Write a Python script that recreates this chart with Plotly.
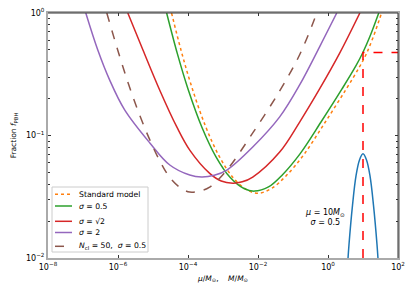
import numpy as np
import plotly.graph_objects as go

# ---- data (log10 of mass, log10 of fraction) ----
std_logM = [-4.47, -4.20, -3.90, -3.50, -3.10, -2.70, -2.30, -1.98, -1.60, -1.20, -0.70, -0.10, 0.50, 0.90, 1.10, 1.30, 1.53]
std_logf = [0.0, -0.303, -0.597, -0.924, -1.174, -1.348, -1.447, -1.471, -1.43, -1.33, -1.16, -0.90, -0.63, -0.44, -0.33, -0.19, 0.0]

s05_logM = [-4.61, -4.30, -4.00, -3.60, -3.20, -2.80, -2.40, -2.10, -1.70, -1.30, -0.80, -0.20, 0.40, 0.80, 1.00, 1.20, 1.45]
s05_logf = [0.0, -0.336, -0.620, -0.934, -1.174, -1.341, -1.433, -1.454, -1.42, -1.32, -1.15, -0.89, -0.62, -0.43, -0.32, -0.19, 0.0]

s14_logM = [-5.72, -5.29, -4.81, -4.32, -3.95, -3.38, -3.05, -2.72, -2.45, -2.15, -1.38, -0.81, -0.24, 0.33, 0.91]
s14_logf = [0.0, -0.30, -0.628, -0.93, -1.119, -1.309, -1.372, -1.389, -1.378, -1.339, -1.135, -0.89, -0.62, -0.33, 0.0]

s2_logM = [-6.92, -6.58, -6.24, -5.81, -5.09, -4.52, -3.95, -3.61, -3.25, -2.89, -2.15, -1.38, -0.81, -0.24, 0.25]
s2_logf = [0.0, -0.30, -0.546, -0.791, -1.061, -1.241, -1.323, -1.339, -1.325, -1.282, -1.094, -0.848, -0.587, -0.276, 0.0]

ncl_logM = [-6.32, -6.00, -5.70, -5.40, -5.10, -4.80, -4.50, -4.20, -3.95, -3.65, -3.38, -2.89, -2.15, -1.38, -0.81, -0.32]
ncl_logf = [0.0, -0.31, -0.58, -0.82, -1.03, -1.21, -1.35, -1.43, -1.462, -1.452, -1.421, -1.282, -0.979, -0.636, -0.341, 0.0]

psi_logM = [0.55, 0.60, 0.70, 0.80, 0.90, 1.00, 1.10, 1.20, 1.30, 1.40, 1.45]
psi_logf = [-2.10, -1.89, -1.57, -1.33, -1.20, -1.15, -1.20, -1.33, -1.57, -1.89, -2.10]

mu_value = 10.0
f_limit = 0.476
y_bottom = 0.01
x_right = 100.0

x_tickvals = [1e-8, 1e-6, 1e-4, 1e-2, 1e0, 1e2]
x_ticktext = ["10<sup>−8</sup>", "10<sup>−6</sup>", "10<sup>−4</sup>", "10<sup>−2</sup>", "10<sup>0</sup>", "10<sup>2</sup>"]
y_tickvals = [1e-2, 1e-1, 1e0]
y_ticktext = ["10<sup>−2</sup>", "10<sup>−1</sup>", "10<sup>0</sup>"]

legend_names = ["Standard model", "<i>σ</i> = 0.5", "<i>σ</i> = √2", "<i>σ</i> = 2",
                "<i>N</i><sub>cl</sub> = 50,  <i>σ</i> = 0.5"]
legend_colors = ["#ff7f0e", "#2ca02c", "#d62728", "#9467bd", "#8c564b"]
legend_dashes = ["dot", "solid", "solid", "solid", "dash"]


def p(a):
    return 10 ** np.array(a)


FONT = "DejaVu Sans"
W, H = 415, 297
ML, MR, MT, MB = 48, 17, 13, 39
PW, PH = W - ML - MR, H - MT - MB


def px2paper_x(px):
    return (px - ML) / PW


def py2paper_y(py):
    return (H - MB - py) / PH


fig = go.Figure()

curves = [(std_logM, std_logf), (s05_logM, s05_logf), (s14_logM, s14_logf),
          (s2_logM, s2_logf), (ncl_logM, ncl_logf)]
for (lm, lf), name, col, dash in zip(curves, legend_names, legend_colors, legend_dashes):
    fig.add_trace(go.Scatter(x=p(lm), y=p(lf), mode="lines", name=name, showlegend=False,
                             line=dict(color=col, width=1.5, dash=dash, shape="spline", smoothing=1.0)))

fig.add_trace(go.Scatter(x=p(psi_logM), y=p(psi_logf), mode="lines", showlegend=False,
                         line=dict(color="#1f77b4", width=1.5, shape="spline", smoothing=1.0)))

fig.add_trace(go.Scatter(x=[mu_value, mu_value, x_right], y=[y_bottom, f_limit, f_limit], mode="lines",
                         showlegend=False, line=dict(color="#ff0000", width=1.5, dash="dash")))

fig.add_annotation(x=-0.1, y=np.log10(0.0215), xref="x", yref="y",
                   text="<i>μ</i> = 10<i>M</i><sub>⊙</sub><br><i>σ</i> = 0.5",
                   showarrow=False, font=dict(family=FONT, size=8, color="black"), align="center")

# top/right dark spines
fig.add_shape(type="line", xref="paper", yref="paper", x0=0, x1=1, y0=1, y1=1, line=dict(color="#333", width=1))
fig.add_shape(type="line", xref="paper", yref="paper", x0=1, x1=1, y0=0, y1=1, line=dict(color="#333", width=1))

# hand-drawn legend (matplotlib-like compact rows)
fig.add_shape(type="rect", xref="paper", yref="paper",
              x0=px2paper_x(52), x1=px2paper_x(148), y0=py2paper_y(252), y1=py2paper_y(187),
              line=dict(color="#cccccc", width=1), fillcolor="rgba(255,255,255,0.85)", layer="above")
row_py = [194.3, 206.0, 221.3, 232.5, 246.3]
for ypx, name, col, dash in zip(row_py, legend_names, legend_colors, legend_dashes):
    yp = py2paper_y(ypx)
    fig.add_shape(type="line", xref="paper", yref="paper", x0=px2paper_x(55), x1=px2paper_x(72),
                  y0=yp, y1=yp, line=dict(color=col, width=1.5, dash=dash), layer="above")
    fig.add_annotation(x=px2paper_x(77), y=yp, xref="paper", yref="paper", text=name,
                       showarrow=False, xanchor="left", yanchor="middle",
                       font=dict(family=FONT, size=7.7, color="black"))

fig.update_xaxes(type="log", range=[-8, 2], tickvals=x_tickvals, ticktext=x_ticktext, automargin=False,
                 ticks="inside", ticklen=3, tickcolor="#333", mirror="ticks",
                 showline=True, linecolor="#aaaaaa", linewidth=2, showgrid=False, zeroline=False,
                 tickfont=dict(family=FONT, size=8, color="black"),
                 title=dict(text="<i>μ</i>/<i>M</i><sub>⊙</sub>,    <i>M</i>/<i>M</i><sub>⊙</sub>",
                            font=dict(family=FONT, size=7.5, color="black"), standoff=5))
fig.update_yaxes(type="log", range=[-2, 0], tickvals=y_tickvals, ticktext=y_ticktext, automargin=False,
                 ticks="inside", ticklen=3, tickcolor="#333", mirror="ticks",
                 minor=dict(ticks="inside", ticklen=2, tickcolor="#333", dtick="D1"),
                 showline=True, linecolor="#aaaaaa", linewidth=2, showgrid=False, zeroline=False,
                 tickfont=dict(family=FONT, size=8, color="black"),
                 title=dict(text="Fraction <i>f</i><sub>PBH</sub>",
                            font=dict(family=FONT, size=7.5, color="black"), standoff=8))

fig.update_layout(template="none", width=W, height=H, margin=dict(l=ML, r=MR, t=MT, b=MB),
                  paper_bgcolor="white", plot_bgcolor="white", showlegend=False)

fig.write_html("out.html", config={"displayModeBar": False},
               post_script="document.body.style.margin='0px';document.body.style.padding='0px';")
